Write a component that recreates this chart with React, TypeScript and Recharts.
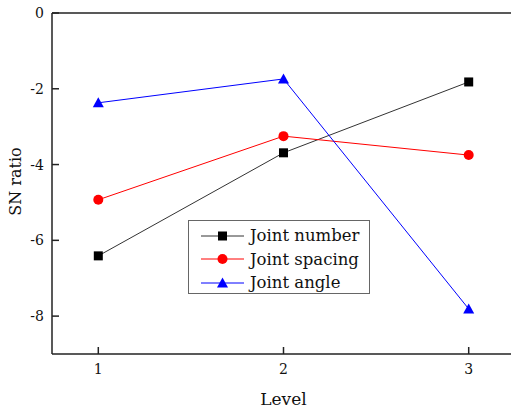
import React from "react";
import {
  LineChart,
  Line,
  XAxis,
  YAxis,
  ReferenceLine,
  Label,
} from "recharts";

const levels = [1, 2, 3];
const jointNumber = [-6.41, -3.69, -1.82];
const jointSpacing = [-4.93, -3.25, -3.75];
const jointAngle = [-2.37, -1.74, -7.81];
const yTicks = [0, -2, -4, -6, -8];

const data = levels.map((level, i) => ({
  level,
  number: jointNumber[i],
  spacing: jointSpacing[i],
  angle: jointAngle[i],
}));

const FONT = "'DejaVu Serif', 'Liberation Serif', serif";
const AXIS = "#222";

const SquareDot = (p: any) => (
  <rect key={`sq-${p.index}`} x={p.cx - 4.5} y={p.cy - 4.5} width={9} height={9} fill="#000" />
);
const CircleDot = (p: any) => (
  <circle key={`ci-${p.index}`} cx={p.cx} cy={p.cy} r={5} fill="#ff0000" />
);
const TriangleDot = (p: any) => (
  <polygon
    key={`tr-${p.index}`}
    points={`${p.cx},${p.cy - 5.5} ${p.cx + 5.5},${p.cy + 4.5} ${p.cx - 5.5},${p.cy + 4.5}`}
    fill="#0000ff"
  />
);

const YTick = (p: any) => (
  <g>
    <line x1={p.x + 8} x2={p.x + 15} y1={p.y} y2={p.y} stroke={AXIS} strokeWidth={1.5} />
    <text x={p.x} y={p.y} dy={5} textAnchor="end" fontSize={14} fontFamily={FONT} fill="#111">
      {p.payload.value}
    </text>
  </g>
);

const XTick = (p: any) => (
  <g>
    <line x1={p.x} x2={p.x} y1={p.y - 7} y2={p.y} stroke={AXIS} strokeWidth={1.5} />
    <text x={p.x} y={p.y} dy={20} textAnchor="middle" fontSize={14} fontFamily={FONT} fill="#111">
      {p.payload.value}
    </text>
  </g>
);

const legendItems = [
  { name: "Joint number", color: "#333", shape: "square" },
  { name: "Joint spacing", color: "#ff0000", shape: "circle" },
  { name: "Joint angle", color: "#0000ff", shape: "triangle" },
];

function LegendBox() {
  return (
    <div
      style={{
        position: "absolute",
        left: 188,
        top: 220,
        width: 180,
        height: 72,
        border: "1px solid #666",
        background: "#fff",
        fontFamily: FONT,
        fontSize: 16.5,
        color: "#111",
        boxSizing: "content-box",
      }}
    >
      {legendItems.map((it, i) => (
        <div key={it.name} style={{ position: "absolute", left: 0, top: 3.5 + i * 23.5, height: 22, display: "flex", alignItems: "center" }}>
          <svg width={60} height={22} style={{ display: "block" }}>
            <line x1={12} x2={55} y1={11} y2={11} stroke={it.color} strokeWidth={1} />
            {it.shape === "square" && <rect x={29} y={6.5} width={9} height={9} fill="#000" />}
            {it.shape === "circle" && <circle cx={33.5} cy={11} r={5} fill="#ff0000" />}
            {it.shape === "triangle" && <polygon points="33.5,5.5 39,15.5 28,15.5" fill="#0000ff" />}
          </svg>
          <span style={{ marginLeft: 1, whiteSpace: "nowrap" }}>{it.name}</span>
        </div>
      ))}
    </div>
  );
}

export default function App() {
  return (
    <div
      style={{
        position: "fixed",
        left: 0,
        top: 0,
        width: 511,
        height: 410,
        overflow: "hidden",
        background: "#fff",
      }}
    >
      <LineChart
        width={520}
        height={410}
        data={data}
        margin={{ top: 13, right: 5, bottom: 0, left: 8 }}
      >
        <XAxis
          dataKey="level"
          type="number"
          domain={[0.75, 3.25]}
          ticks={levels}
          interval={0}
          height={56}
          tickSize={0}
          tickMargin={0}
          tickLine={false}
          tick={<XTick />}
          axisLine={{ stroke: AXIS, strokeWidth: 1.5 }}
        >
          <Label value="Level" position="insideBottom" offset={5} fontSize={17} fontFamily={FONT} fill="#111" />
        </XAxis>
        <YAxis
          type="number"
          domain={[-9, 0]}
          ticks={yTicks}
          interval={0}
          width={44}
          tickSize={0}
          tickMargin={8}
          tickLine={false}
          tick={<YTick />}
          axisLine={{ stroke: AXIS, strokeWidth: 1.5 }}
        >
          <Label
            content={(props: any) => {
              const vb = props.viewBox;
              const cy = vb.y + vb.height / 2 - 2;
              return (
                <text
                  x={15}
                  y={cy}
                  transform={`rotate(-90, 15, ${cy})`}
                  textAnchor="middle"
                  dominantBaseline="central"
                  fontSize={16}
                  fontFamily={FONT}
                  fill="#111"
                >
                  SN ratio
                </text>
              );
            }}
          />
        </YAxis>
        <ReferenceLine y={0} stroke={AXIS} strokeWidth={1.5} />
        <Line
          dataKey="number"
          stroke="#333"
          strokeWidth={1}
          dot={SquareDot}
          activeDot={false}
          isAnimationActive={false}
        />
        <Line
          dataKey="spacing"
          stroke="#ff0000"
          strokeWidth={1}
          dot={CircleDot}
          activeDot={false}
          isAnimationActive={false}
        />
        <Line
          dataKey="angle"
          stroke="#0000ff"
          strokeWidth={1}
          dot={TriangleDot}
          activeDot={false}
          isAnimationActive={false}
        />
      </LineChart>
      <LegendBox />
    </div>
  );
}
